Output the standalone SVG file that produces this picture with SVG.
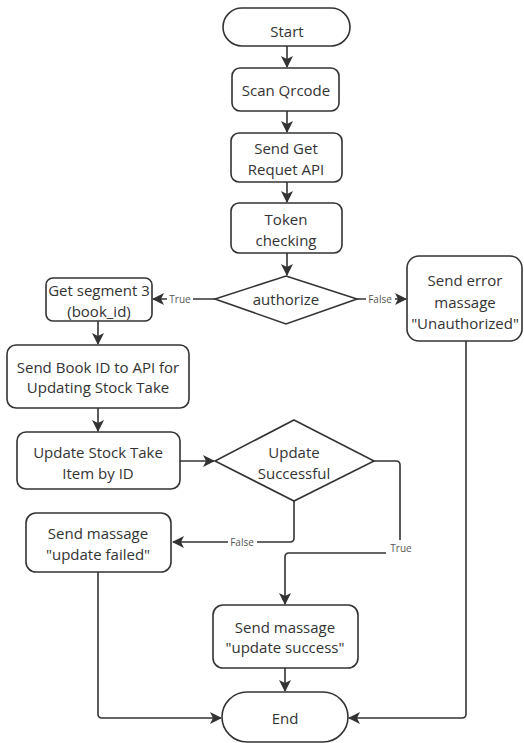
<svg xmlns="http://www.w3.org/2000/svg" width="524" height="743" viewBox="0 0 524 743">
<defs>
<style>
.shape{fill:#fff;stroke:#333;stroke-width:1.6}
.t{font-family:"Open Sans","Noto Sans",sans-serif;font-size:15px;fill:#333;text-anchor:middle;dominant-baseline:central}
.lbl{font-family:"Open Sans","Noto Sans",sans-serif;font-size:10px;fill:#555;text-anchor:middle;dominant-baseline:central}
.c{fill:none;stroke:#333;stroke-width:1.6;stroke-linejoin:round}
.lb{fill:#fff}
</style>
<marker id="ah" viewBox="0 0 12 12" refX="11" refY="6" markerWidth="12" markerHeight="12" markerUnits="userSpaceOnUse" orient="auto">
<path d="M0,0 L12,6 L0,12 L3,6 Z" fill="#333"/>
</marker>
</defs>
<rect width="524" height="743" fill="#fff"/>
<g id="connectors">
<path class="c" d="M287,46 V67" marker-end="url(#ah)"/>
<path class="c" d="M287,111 V132" marker-end="url(#ah)"/>
<path class="c" d="M287,182 V202" marker-end="url(#ah)"/>
<path class="c" d="M287,253 V275" marker-end="url(#ah)"/>
<path class="c" d="M215,299 H153" marker-end="url(#ah)"/>
<rect class="lb" x="167" y="292" width="26" height="14"/>
<text class="lbl" x="180" y="299">True</text>
<path class="c" d="M357,299 H406" marker-end="url(#ah)"/>
<rect class="lb" x="366" y="292" width="29" height="14"/>
<text class="lbl" x="380" y="299">False</text>
<path class="c" d="M98,321 V344" marker-end="url(#ah)"/>
<path class="c" d="M98,408 V431" marker-end="url(#ah)"/>
<path class="c" d="M180,461 H214" marker-end="url(#ah)"/>
<path class="c" d="M294,501 V538 Q294,542 290,542 H173" marker-end="url(#ah)"/>
<rect class="lb" x="228" y="535" width="29" height="14"/>
<text class="lbl" x="242" y="542">False</text>
<path class="c" d="M374,461 H396 Q400,461 400,465 V553 H289 Q285,553 285,557 V604" marker-end="url(#ah)"/>
<rect class="lb" x="386" y="540" width="29" height="15"/>
<text class="lbl" x="401" y="548">True</text>
<path class="c" d="M466,341 V714 Q466,718 462,718 H349" marker-end="url(#ah)"/>
<path class="c" d="M98,572 V714 Q98,718 102,718 H221" marker-end="url(#ah)"/>
<path class="c" d="M285,668 V691" marker-end="url(#ah)"/>
</g>
<g id="start">
<rect class="shape" x="223" y="8" width="127" height="38" rx="19"/>
<text class="t" x="287" y="31">Start</text>
</g>
<g id="scan">
<rect class="shape" x="232" y="68" width="107" height="43" rx="8"/>
<text class="t" x="286" y="90">Scan Qrcode</text>
</g>
<g id="sendget">
<rect class="shape" x="231" y="133" width="111" height="49" rx="8"/>
<text class="t" x="286" y="148">Send Get</text>
<text class="t" x="286" y="169">Requet API</text>
</g>
<g id="token">
<rect class="shape" x="231" y="203" width="111" height="50" rx="8"/>
<text class="t" x="286" y="219">Token</text>
<text class="t" x="286" y="240">checking</text>
</g>
<g id="authorize">
<polygon class="shape" points="286,276 357,299 286,324 215,299"/>
<text class="t" x="286" y="299">authorize</text>
</g>
<g id="senderror">
<rect class="shape" x="407" y="256" width="115" height="85" rx="12"/>
<text class="t" x="465" y="280">Send error</text>
<text class="t" x="465" y="302">massage</text>
<text class="t" x="465" y="323">"Unauthorized"</text>
</g>
<g id="getsegment">
<rect class="shape" x="46" y="278" width="106" height="43" rx="7"/>
<text class="t" x="99" y="290">Get segment 3</text>
<text class="t" x="99" y="311">(book_id)</text>
</g>
<g id="sendbook">
<rect class="shape" x="7" y="345" width="182" height="63" rx="9"/>
<text class="t" x="98" y="367">Send Book ID to API for</text>
<text class="t" x="98" y="387">Updating Stock Take</text>
</g>
<g id="update">
<rect class="shape" x="17" y="432" width="163" height="57" rx="9"/>
<text class="t" x="98" y="452">Update Stock Take</text>
<text class="t" x="98" y="473">Item by ID</text>
</g>
<g id="updatesuccessful">
<polygon class="shape" points="294,420 374,461 294,501 215,461"/>
<text class="t" x="294" y="452">Update</text>
<text class="t" x="294" y="473">Successful</text>
</g>
<g id="failed">
<rect class="shape" x="26" y="513" width="145" height="59" rx="10"/>
<text class="t" x="98" y="533">Send massage</text>
<text class="t" x="98" y="554">"update failed"</text>
</g>
<g id="success">
<rect class="shape" x="213" y="605" width="145" height="63" rx="10"/>
<text class="t" x="285" y="627">Send massage</text>
<text class="t" x="285" y="647">"update success"</text>
</g>
<g id="end">
<rect class="shape" x="222" y="692" width="126" height="50" rx="25"/>
<text class="t" x="285" y="718">End</text>
</g>
</svg>
